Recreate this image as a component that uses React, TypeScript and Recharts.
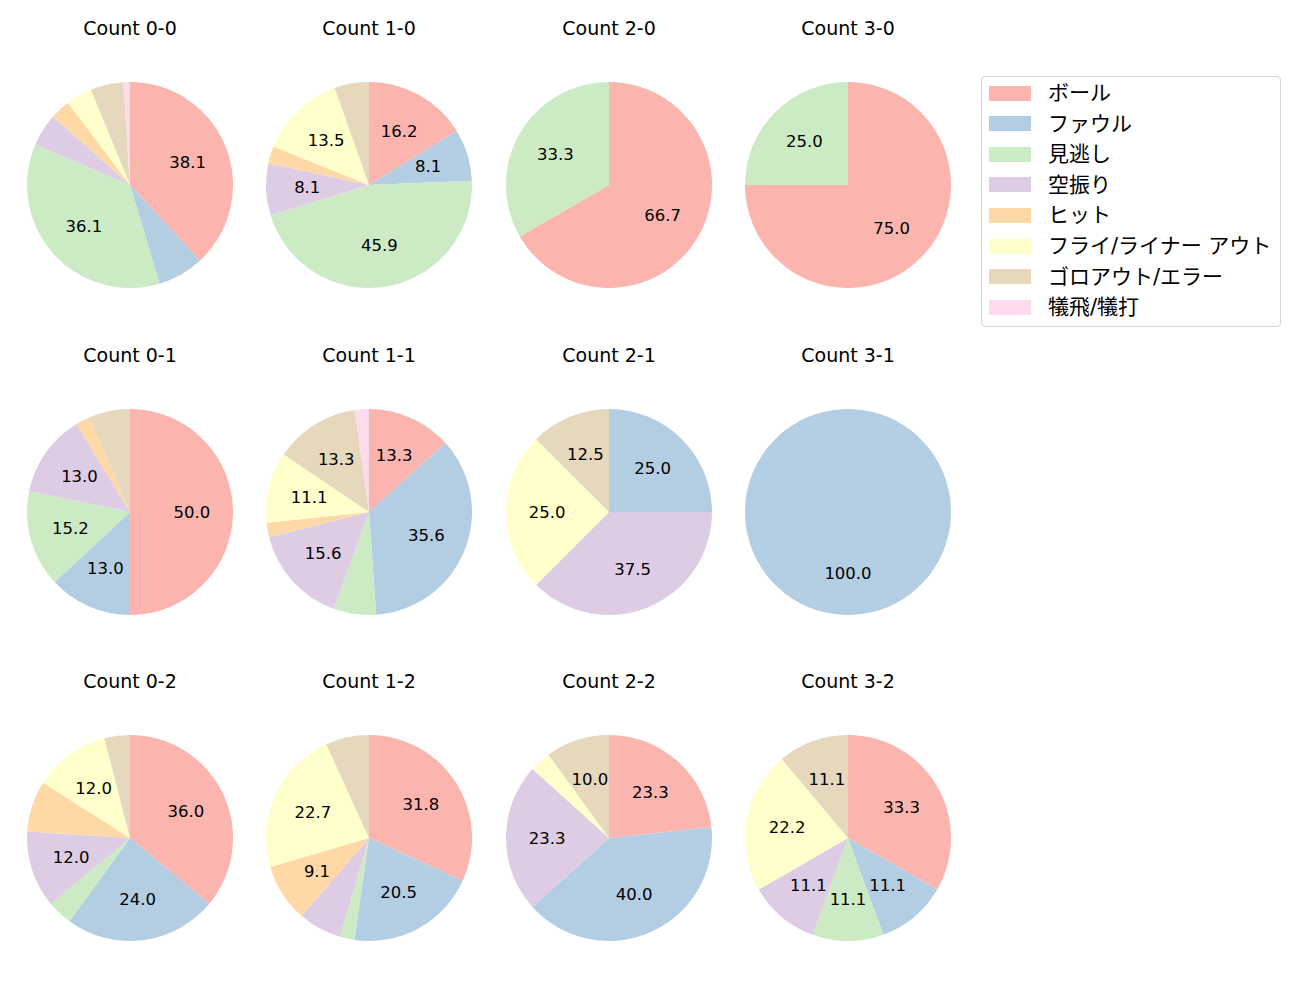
import React from 'react';
import { PieChart, Pie, Cell } from 'recharts';

const countLabels = ['0-0', '1-0', '2-0', '3-0', '0-1', '1-1', '2-1', '3-1', '0-2', '1-2', '2-2', '3-2'];
const categories = ['ボール', 'ファウル', '見逃し', '空振り', 'ヒット', 'フライ/ライナー アウト', 'ゴロアウト/エラー', '犠飛/犠打'];
const colors = ['#fbb4ae', '#b3cde3', '#ccebc5', '#decbe4', '#fed9a6', '#ffffcc', '#e5d8bd', '#fddaec'];

// counts per category, in order of countLabels
const ball = [37, 6, 2, 3, 23, 6, 0, 0, 9, 14, 7, 3];
const foul = [7, 3, 0, 0, 6, 16, 2, 1, 6, 9, 12, 1];
const called = [35, 17, 1, 1, 7, 3, 0, 0, 1, 1, 0, 1];
const swinging = [5, 3, 0, 0, 6, 7, 3, 0, 3, 3, 7, 1];
const hit = [3, 1, 0, 0, 1, 1, 0, 0, 2, 4, 0, 0];
const flyout = [4, 5, 0, 0, 0, 5, 2, 0, 3, 10, 1, 2];
const groundout = [5, 2, 0, 0, 3, 6, 1, 0, 1, 3, 3, 1];
const sacrifice = [1, 0, 0, 0, 0, 1, 0, 0, 0, 0, 0, 0];

const series = [ball, foul, called, swinging, hit, flyout, groundout, sacrifice];

const FONT = '"DejaVu Sans", "Noto Sans CJK JP", sans-serif';
const COL_X = [130, 369, 609, 848];
const ROW_Y = [185, 512, 838];
const R = 103;
const BOX = 240;
const RAD = Math.PI / 180;

const renderLabel = (props: any) => {
  const { cx, cy, midAngle, outerRadius, percent } = props;
  const pct = percent * 100;
  if (!(pct > 8)) return null;
  const r = outerRadius * 0.6;
  const x = cx + r * Math.cos(-midAngle * RAD);
  const y = cy + r * Math.sin(-midAngle * RAD);
  return (
    <text x={x} y={y} textAnchor="middle" dominantBaseline="central" fill="#000" fontSize={16.5} fontFamily={FONT}>
      {pct.toFixed(1)}
    </text>
  );
};

export default function App() {
  return (
    <div style={{ position: 'absolute', left: 0, top: 0, width: 1300, height: 1000, background: '#fff', fontFamily: FONT }}>
      {countLabels.map((c, i) => {
        const col = i % 4;
        const row = Math.floor(i / 4);
        const cx = COL_X[col];
        const cy = ROW_Y[row];
        const data = categories
          .map((name, k) => ({ name, value: series[k][i], color: colors[k] }))
          .filter((d) => d.value > 0);
        return (
          <React.Fragment key={c}>
            <div
              style={{
                position: 'absolute',
                left: cx - 100,
                width: 200,
                top: cy - 157 - 12,
                height: 24,
                lineHeight: '24px',
                textAlign: 'center',
                fontSize: 19,
                color: '#000',
              }}
            >
              {'Count ' + c}
            </div>
            <div style={{ position: 'absolute', left: cx - BOX / 2, top: cy - BOX / 2, width: BOX, height: BOX }}>
              <PieChart width={BOX} height={BOX} margin={{ top: 0, right: 0, bottom: 0, left: 0 }}>
                <Pie
                  data={data}
                  dataKey="value"
                  nameKey="name"
                  cx={BOX / 2}
                  cy={BOX / 2}
                  outerRadius={R}
                  innerRadius={0}
                  startAngle={90}
                  endAngle={-270}
                  stroke="none"
                  labelLine={false}
                  label={renderLabel}
                  isAnimationActive={false}
                >
                  {data.map((d) => (
                    <Cell key={d.name} fill={d.color} />
                  ))}
                </Pie>
              </PieChart>
            </div>
          </React.Fragment>
        );
      })}
      <div
        style={{
          position: 'absolute',
          left: 981,
          top: 76,
          width: 300,
          height: 251,
          border: '1px solid #d6d6d6',
          borderRadius: 4,
          boxSizing: 'border-box',
        }}
      >
        {categories.map((name, k) => (
          <div key={name} style={{ position: 'absolute', left: 0, top: 1 + k * 30.6, height: 30, width: 296 }}>
            <div style={{ position: 'absolute', left: 7, top: 7.5, width: 42, height: 15, background: colors[k] }} />
            <div style={{ position: 'absolute', left: 66, top: 0, lineHeight: '30px', fontSize: 21, color: '#000', whiteSpace: 'nowrap' }}>
              {name}
            </div>
          </div>
        ))}
      </div>
    </div>
  );
}
